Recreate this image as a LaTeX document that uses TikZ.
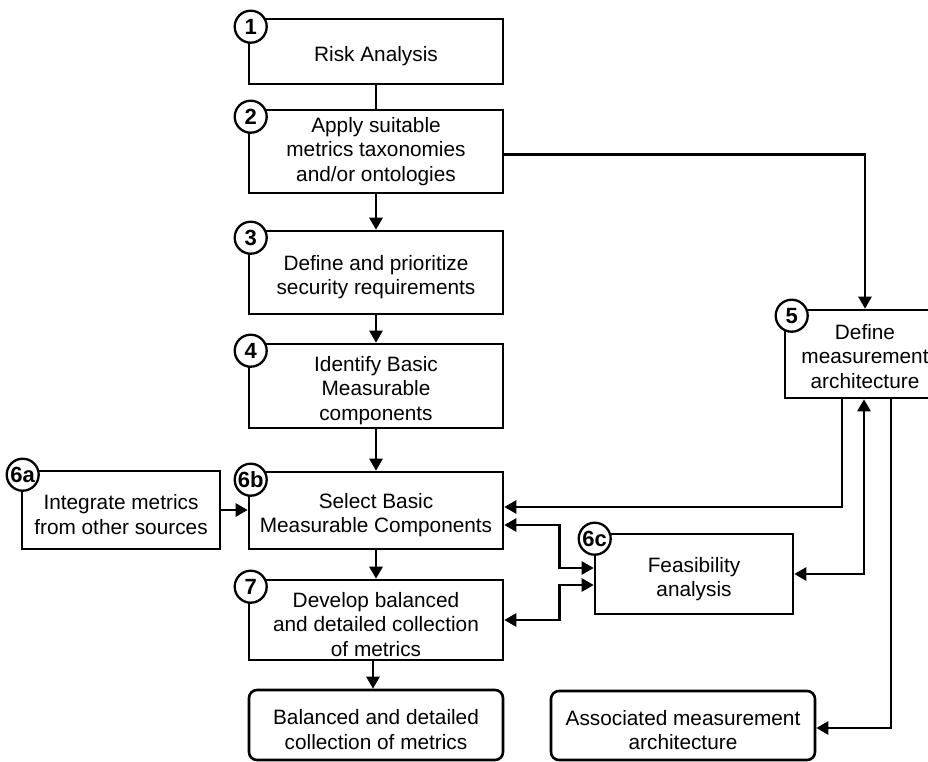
\documentclass[tikz,border=0pt]{standalone}
\usepackage{fontspec}
\setmainfont{Liberation Sans}
\usetikzlibrary{arrows.meta,calc}
\newcommand\tup[1][24pt]{\rule{0pt}{#1}}
\begin{document}
\begin{tikzpicture}[x=1pt,y=-1pt,
  box/.style={draw,line width=2.6pt,inner sep=0pt,align=center,font=\fontsize{20.8}{24.5}\selectfont},
  rbox/.style={box,rounded corners=8pt},
  num/.style={circle,draw,fill=white,line width=2.3pt,minimum size=32pt,inner sep=0pt,font=\fontsize{22}{22}\selectfont\bfseries},
  ln/.style={line width=2.6pt},
  arr/.style={ln,-{Triangle[length=12pt,width=13pt]}},
  darr/.style={ln,{Triangle[length=12pt,width=13pt]}-{Triangle[length=12pt,width=13pt]}}]
\useasboundingbox (0,0) rectangle (928,762);
\clip (0,0) rectangle (928,762);
% boxes
\node[box,minimum width=254pt,minimum height=65pt] (b1) at (376,51.5) {\tup[25pt]Risk Analysis};
\node[box,minimum width=254pt,minimum height=83pt] (b2) at (376,151.5) {Apply suitable\\metrics taxonomies\\and/or ontologies};
\node[box,minimum width=254pt,minimum height=83pt] (b3) at (376,272.5) {\tup Define and prioritize\\security requirements};
\node[box,minimum width=254pt,minimum height=84pt] (b4) at (376,386) {\tup Identify Basic\\Measurable\\components};
\node[box,minimum width=254pt,minimum height=77pt] (b6b) at (376,510.5) {\tup Select Basic\\Measurable Components};
\node[box,minimum width=254pt,minimum height=80pt] (b7) at (376,620) {\tup Develop balanced\\and detailed collection\\of metrics};
\node[rbox,minimum width=254pt,minimum height=70pt] (res) at (376,725) {\tup Balanced and detailed\\collection of metrics};
\node[box,minimum width=198pt,minimum height=78pt] (b6a) at (121,510) {\tup Integrate metrics\\from other sources};
\node[box,minimum width=160pt,minimum height=88pt] (b5) at (865,354) {\tup[20pt]Define\\measurement\\architecture};
\node[box,minimum width=198pt,minimum height=80pt] (b6c) at (694,574) {\tup[25pt]Feasibility\\analysis};
\node[rbox,minimum width=264pt,minimum height=69pt] (assoc) at (683,725.5) {\tup Associated measurement\\architecture};
% numbers
\node[num] (c1) at ($(b1.north west)+(3,9)$) {1};
\node[num] (c2) at ($(b2.north west)+(3,8)$) {2};
\node[num] (c3) at ($(b3.north west)+(3,8)$) {3};
\node[num] (c4) at ($(b4.north west)+(3,8)$) {4};
\node[num] (c6b) at ($(b6b.north west)+(3,9)$) {6b};
\node[num] (c7) at ($(b7.north west)+(3,8)$) {7};
\node[num] (c6a) at ($(b6a.north west)+(2,5)$) {6a};
\node[num] (c5) at ($(b5.north west)+(8,7)$) {5};
\node[num] (c6c) at ($(b6c.north west)+(1,6)$) {6c};
% connectors
\draw[ln] (b1) -- (b2);
\draw[arr] (b2) -- (b3);
\draw[arr] (b3) -- (b4);
\draw[arr] (b4) -- (b6b);
\draw[arr] (b6b) -- (b7);
\draw[arr] ($(b7.south)+(-3,0)$) -- ($(res.north)+(-3,0)$);
\draw[arr] (b6a.east) -- (b6a.east -| b6b.west);
\draw[arr] ($(b2.east)+(0,3)$) -| (b5.north);
\draw[arr] ($(b5.south)+(-23,0)$) |- ($(b6b.east)+(0,-3.5)$);
\draw[darr] ($(b5.south)+(-1,0)$) |- (b6c.east);
\draw[arr] ($(b5.south)+(26,0)$) |- ($(assoc.east)+(0,2.5)$);
\draw[darr] ($(b6b.east)+(0,14.5)$) -- ++(55,0) |- ($(b6c.west)+(0,-6)$);
\draw[darr] (b7.east) -- ++(55,0) |- ($(b6c.west)+(0,11)$);
\end{tikzpicture}
\end{document}
